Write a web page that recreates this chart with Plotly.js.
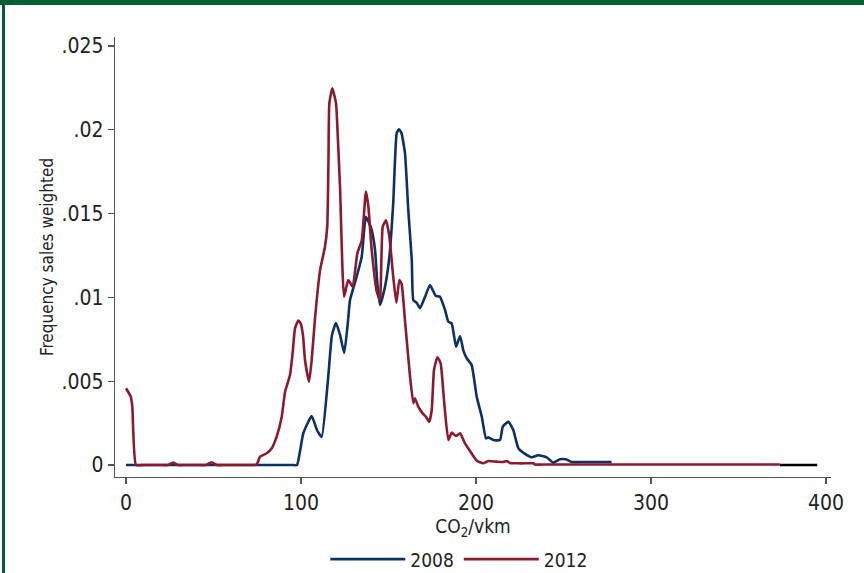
<!DOCTYPE html>
<html>
<head>
<meta charset="utf-8">
<script src="https://cdn.plot.ly/plotly-3.0.1.min.js"></script>
<style>
  html, body { margin: 0; padding: 0; background: #ffffff; }
  #wrap { position: relative; width: 864px; height: 573px; overflow: hidden; }
  #chart { width: 864px; height: 573px; }
  .frame-top { position: absolute; left: 0; top: 0; width: 864px; height: 5px; background: #005e32; }
  .frame-left { position: absolute; left: 2px; top: 0; width: 3px; height: 573px; background: #005e32; }
</style>
</head>
<body>
<div id="wrap">
  <div id="chart"></div>
  <div class="frame-top"></div>
  <div class="frame-left"></div>
</div>
<script>
// CO2/vkm values and weighted frequencies
const co2_2008 = [0, 20, 40, 60, 80, 90, 95, 97.7, 101.3, 106.1, 109.1, 111.8, 115.4, 117.7, 120, 122.3, 124.7, 126.9, 128, 131.8, 134.7, 137.1, 140.4, 142.3, 143.6, 145.1, 148, 150.5, 152.7, 154.7, 156, 157.4, 159.4, 161.3, 163.3, 164.2, 166.1, 168, 170.9, 173.7, 177.1, 179.4, 182.3, 184.2, 186.1, 188.6, 190.9, 192.7, 194.7, 197.5, 200.4, 203.3, 205.7, 207, 209.9, 213.7, 215.3, 218.5, 221.3, 224.2, 228, 231.8, 235.6, 240.4, 244.2, 248, 251.4, 254.7, 262, 270, 277.5];
const freq_2008 = [0, 0, 0, 0, 0, 0, 0, 0, 0.00189, 0.00292, 0.00209, 0.00167, 0.00507, 0.00776, 0.00847, 0.00776, 0.00668, 0.00865, 0.00984, 0.01124, 0.01243, 0.01481, 0.01402, 0.01283, 0.01086, 0.00955, 0.01064, 0.01243, 0.01563, 0.01981, 0.02003, 0.01981, 0.01862, 0.01521, 0.01223, 0.00984, 0.00968, 0.00935, 0.01004, 0.01074, 0.01008, 0.01004, 0.00925, 0.00855, 0.00845, 0.00706, 0.0077, 0.00686, 0.00637, 0.00597, 0.00408, 0.00288, 0.00159, 0.00165, 0.00149, 0.00149, 0.00229, 0.00258, 0.00209, 0.001, 0.00066, 0.00046, 0.00058, 0.00046, 0.00014, 0.00034, 0.00034, 0.00018, 0.00018, 0.00018, 0.00018];

const co2_2012 = [0, 2.7, 3.6, 5.7, 10, 15, 20, 24, 27, 29.7, 34, 40, 45.7, 49, 52, 57, 63, 69, 73, 74.7, 76.6, 80.4, 83.3, 86.1, 89, 90.9, 93.7, 95.1, 96.6, 98.5, 99.8, 101.1, 102.3, 104.6, 106.1, 108, 110.9, 113.7, 115, 115.7, 116.2, 117.9, 120, 121.1, 122.3, 124.6, 127, 129.5, 132.2, 134.7, 137.1, 138.5, 140.4, 143.3, 145.1, 146.7, 148.6, 150.5, 152.7, 154.5, 156.2, 157.5, 159.4, 162.3, 164.2, 165.1, 167, 169.5, 171.4, 173.3, 174.7, 176, 177.9, 179.8, 181.7, 184.2, 186.1, 188.6, 190.9, 193.7, 196.6, 200.4, 204.2, 207, 211.8, 215.6, 217.5, 219.4, 224, 229, 232.7, 233.7, 240, 260, 290, 320, 350, 373.7];
const freq_2012 = [0.00458, 0.00408, 0.00348, 0, 0, 0, 0, 0, 0.00015, 0, 0, 0, 0, 0.00016, 0, 0, 0, 0, 0, 0.00003, 0.0005, 0.0007, 0.001, 0.00169, 0.00288, 0.00437, 0.00537, 0.00656, 0.00817, 0.00862, 0.00845, 0.00776, 0.00626, 0.00497, 0.00626, 0.00875, 0.01163, 0.01302, 0.01422, 0.0182, 0.02158, 0.02248, 0.02158, 0.01939, 0.0166, 0.01004, 0.01104, 0.01064, 0.01263, 0.0134, 0.01631, 0.01541, 0.01283, 0.01034, 0.00984, 0.01422, 0.0146, 0.01362, 0.01124, 0.00968, 0.01104, 0.0108, 0.00865, 0.00527, 0.00368, 0.00398, 0.00348, 0.00308, 0.00288, 0.00258, 0.00328, 0.00567, 0.00643, 0.00607, 0.00388, 0.00149, 0.00193, 0.00173, 0.00189, 0.00129, 0.00084, 0.00026, 0.0001, 0.00024, 0.0002, 0.00018, 0.00024, 0.00012, 0.0001, 0.0001, 0.0001, 0.00003, 0.00003, 0.00003, 0.00003, 0.00003, 0.00003, 0.00003];

// unlabeled tail segment drawn in black
const co2_tail = [373.7, 395];
const freq_tail = [0, 0];

const xTickVals = [0, 100, 200, 300, 400];
const xTickText = ['0', '100', '200', '300', '400'];
const yTickVals = [0, 0.005, 0.01, 0.015, 0.02, 0.025];
const yTickText = ['0', '.005', '.01', '.015', '.02', '.025'];
const seriesNames = ['2008', '2012'];

const FONT = '"DejaVu Sans Condensed", "Liberation Sans", sans-serif';
const BLUE = '#0e3163';
const RED = '#8c1a2e';
const TXT = '#222222';

const traces = [
  {
    x: co2_2008, y: freq_2008, name: seriesNames[0], type: 'scatter', mode: 'lines',
    line: { color: BLUE, width: 2.6, shape: 'spline', smoothing: 0.45 }
  },
  {
    x: co2_2012, y: freq_2012, name: seriesNames[1], type: 'scatter', mode: 'lines',
    line: { color: RED, width: 2.6, shape: 'spline', smoothing: 0.45 }
  },
  {
    x: co2_tail, y: freq_tail, name: 'tail', type: 'scatter', mode: 'lines',
    showlegend: false, hoverinfo: 'skip',
    line: { color: '#000000', width: 2.6 }
  }
];

const layout = {
  width: 864, height: 573,
  paper_bgcolor: '#ffffff', plot_bgcolor: '#ffffff',
  margin: { l: 115, r: 33, t: 37, b: 96 },
  font: { family: FONT, color: TXT, size: 18 },
  showlegend: true,
  legend: {
    orientation: 'h', xref: 'container', yref: 'container',
    x: 0.531, xanchor: 'center', y: 0.024, yanchor: 'middle',
    font: { family: FONT, size: 19, color: TXT },
    itemwidth: 75, traceorder: 'normal', bgcolor: 'rgba(0,0,0,0)'
  },
  xaxis: {
    automargin: false,
    range: [-6.29, 402.86],
    tickvals: xTickVals, ticktext: xTickText,
    showgrid: false, zeroline: false,
    showline: true, linecolor: '#555555', linewidth: 1.3,
    ticks: 'outside', ticklen: 6, tickcolor: '#555555', tickwidth: 1.3,
    tickfont: { family: FONT, size: 21, color: TXT },
    title: { text: 'CO<sub>2</sub>/vkm', font: { family: FONT, size: 19, color: TXT }, standoff: 6 }
  },
  yaxis: {
    automargin: false,
    range: [-0.000716, 0.025537],
    tickvals: yTickVals, ticktext: yTickText,
    showgrid: false, zeroline: false,
    showline: true, linecolor: '#555555', linewidth: 1.3,
    ticks: 'outside', ticklen: 6, tickcolor: '#555555', tickwidth: 1.3,
    tickfont: { family: FONT, size: 21, color: TXT },
    title: { text: 'Frequency sales weighted', font: { family: FONT, size: 17, color: TXT }, standoff: 3 }
  }
};

Plotly.newPlot('chart', traces, layout, { staticPlot: true, displayModeBar: false });
</script>
</body>
</html>
